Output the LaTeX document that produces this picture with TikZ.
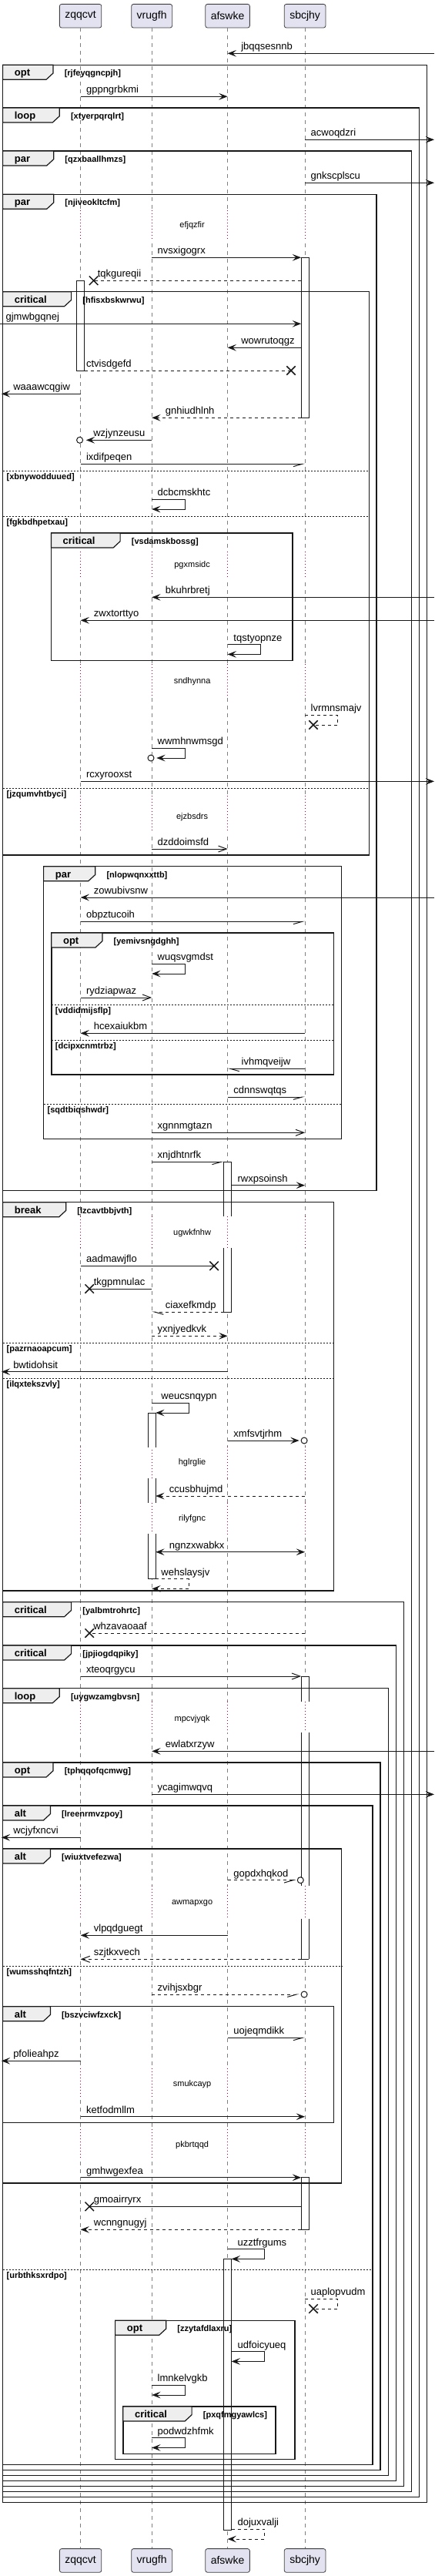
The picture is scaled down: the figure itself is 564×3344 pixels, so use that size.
\documentclass[tikz,border=0pt]{standalone}
\usepackage{fontspec}
\setmainfont{Liberation Sans}
\usetikzlibrary{arrows.meta,shapes.misc}
\definecolor{ink}{HTML}{181818}
\definecolor{partfill}{HTML}{E2E2F0}
\definecolor{tabfill}{HTML}{EEEEEE}
\definecolor{delayred}{HTML}{A80036}
\tikzset{>=Stealth}
\tikzset{
  seqtip/.tip={Stealth[length=8.5pt,width=6.5pt,inset=3.5pt]},
  opentip/.tip={Straight Barb[length=8pt,width=6pt]},
  halfe/.tip={Straight Barb[right,length=8.7pt,width=5pt]},
  halfw/.tip={Straight Barb[left,length=8.7pt,width=5pt]},
  part/.style={draw=black!75,fill=partfill,rounded corners=2pt,line width=0.6pt,
    minimum height=23pt,inner xsep=5.25pt,font=\fontsize{10.5}{12}\selectfont},
  lifeline/.style={draw=black!50,line width=0.6pt,dash pattern=on 3.75pt off 3.75pt},
  delayline/.style={draw=delayred,line width=0.75pt,dash pattern=on 0.75pt off 2.25pt},
  actbar/.style={draw=ink,fill=white,line width=0.75pt},
  actline/.style={draw=ink,line width=0.75pt},
  fragbox/.style={draw=ink,line width=1.1pt},
  fragtab/.style={draw=ink,fill=tabfill,line width=0.9pt},
  elseline/.style={draw=ink,line width=0.7pt,dash pattern=on 1.5pt off 1.5pt},
  kw/.style={font=\bfseries\fontsize{9.75}{11}\selectfont,anchor=base west,inner sep=0pt},
  grd/.style={font=\bfseries\fontsize{8.25}{10}\selectfont,anchor=base west,inner sep=0pt},
  lbl/.style={font=\fontsize{9.75}{11}\selectfont,anchor=base west,inner sep=0pt},
  dly/.style={font=\fontsize{8.25}{10}\selectfont,inner sep=0pt},
  msg/.style={draw=ink,line width=0.75pt},
  tipfull/.style={-seqtip},
  tipopen/.style={-opentip},
  tipboth/.style={seqtip-seqtip},
  tiphalf/.style={-halfe},
  tiphalfw/.style={-halfw},
  xmk/.style={cross out,draw=ink,line width=1.1pt,minimum size=7.5pt,inner sep=0pt},
  circ/.style={circle,draw=ink,fill=white,line width=0.75pt,minimum size=6pt,inner sep=0pt}
}
% lifeline positions
\def\xzq{104.6}
\def\xvr{197.2}
\def\xaf{295.6}
\def\xsb{396.1}
% style, name, x from, x to, y, label x, text
\newcommand\seqmsg[7][]{%
  \coordinate (#2-s) at (#3,#5);
  \coordinate (#2-e) at (#4,#5);
  \draw[msg,#1] (#2-s) -- (#2-e);
  \node[lbl] (#2) at (#6,#5-4.5) {#7};
}
% style, name, x from, x back, y top, x right, label x, text
\newcommand\selfloop[8][]{%
  \coordinate (#2-s) at (#3,#5);
  \coordinate (#2-e) at (#4,#5+12.7);
  \draw[msg,#1] (#2-s) -- (#6,#5) -- (#6,#5+12.7) -- (#2-e);
  \node[lbl] (#2) at (#7,#5-4.5) {#8};
}
% name, left, top, right, bottom, tab right, keyword, guard
\newcommand\seqframe[8]{%
  \draw[fragbox] (#2,#3) rectangle (#4,#5);
  \draw[fragtab] (#2,#3) -- (#6,#3) -- (#6,#3+10.7) -- (#6-9,#3+19) -- (#2,#3+19) -- cycle;
  \node[kw] (#1-kw) at (#2+15,#3+14.5) {#7};
  \node[grd] (#1) at (#6+14.5,#3+14.5) {[#8]};
}
% name, left, right, y, guard
\newcommand\seqelse[5]{%
  \draw[elseline] (#2,#4) -- (#3,#4);
  \node[grd] (#1) at (#2+4.8,#4+11.2) {[#5]};
}
\newcommand\actbox[3]{\draw[actbar] (#1-5,#2) rectangle (#1+5,#3);}
\newcommand\actseg[3]{\fill[white] (#1-5,#2) rectangle (#1+5,#3);
  \draw[actline] (#1-5,#2) -- (#1-5,#3) (#1+5,#2) -- (#1+5,#3);}
\newcommand\actcap[2]{\draw[actline] (#1-5,#2) -- (#1+5,#2);}

\begin{document}
\begin{tikzpicture}[x=0.75pt,y=-0.75pt]
  \path[use as bounding box,fill=white] (0,0) rectangle (564,3344);

  % Participants
  \node[part] (zqqcvt) at (\xzq,20.7) {zqqcvt};
  \node[part] (vrugfh) at (\xvr,20.7) {vrugfh};
  \node[part] (afswke) at (\xaf,20.7) {afswke};
  \node[part] (sbcjhy) at (\xsb,20.7) {sbcjhy};
  \node[part] (zqqcvt-f) at (\xzq,3323.9) {zqqcvt};
  \node[part] (vrugfh-f) at (\xvr,3323.9) {vrugfh};
  \node[part] (afswke-f) at (\xaf,3323.9) {afswke};
  \node[part] (sbcjhy-f) at (\xsb,3323.9) {sbcjhy};

  % Lifelines
  \foreach \p in {zqqcvt,vrugfh,afswke,sbcjhy}
    \draw[lifeline] (\p) -- (\p-f);
  \foreach \ya/\yb in {273.3/311.3,716/751,862.3/904.7,1033.3/1080.7,1579.3/1620,
      1878/1918.7,1950.7/1991,2209.3/2249,2448/2490.7,2684.7/2723.7,2763.7/2803.3}
    \foreach \x in {\xzq,\xvr,\xaf,\xsb} {
      \fill[white] (\x-1.5,\ya) rectangle (\x+1.5,\yb);
      \draw[delayline] (\x,\ya) -- (\x,\yb);
    }

  % Activations
  \actbox{\xsb}{334.3}{542.3}
  \actbox{\xzq}{364.3}{481}
  \actseg{\xaf}{1508.3}{1579.3} \actseg{\xaf}{1620}{1703}
  \actcap{\xaf}{1508.3} \actcap{\xaf}{1703}
  \actseg{\xvr}{1834}{1878.7} \actseg{\xvr}{1918.7}{1950.7} \actseg{\xvr}{1991}{2049.7}
  \actcap{\xvr}{1834} \actcap{\xvr}{2049.7}
  \actseg{\xsb}{2176}{2209.3} \actseg{\xsb}{2249}{2448} \actseg{\xsb}{2490.7}{2543.3}
  \actcap{\xsb}{2176} \actcap{\xsb}{2543.3}
  \actbox{\xsb}{2826.7}{2894.3}
  \actbox{\xaf}{2932.3}{3284}

  % Frames
  \seqframe{f1}{3.6}{84.3}{554.5}{3248.3}{69}{opt}{rjfeyqgncpjh}
  \seqframe{f2}{3.6}{140}{544.7}{3241.3}{77.3}{loop}{xtyerpqrqlrt}
  \seqframe{f3}{3.6}{196}{534.5}{3234.3}{69.7}{par}{qzxbaallhmzs}
  \seqframe{f4}{3.6}{252.3}{489.1}{1545.7}{69.7}{par}{njiveokltcfm}
  \seqframe{f5}{3.6}{378.7}{479.3}{1110}{92.6}{critical}{hfisxbskwrwu}
  \seqelse{e1}{3.6}{479.3}{611.3}{xbnywodduued}
  \seqelse{e2}{3.6}{479.3}{670.3}{fgkbdhpetxau}
  \seqframe{f6}{66.4}{692}{380.2}{857.3}{156.1}{critical}{vsdamskbossg}
  \seqelse{e3}{3.6}{479.3}{1023.3}{jzqumvhtbyci}
  \seqframe{f7}{56.6}{1124.7}{443.7}{1478.3}{123.8}{par}{nlopwqnxxttb}
  \seqframe{f8}{66.8}{1211}{433.6}{1395}{132.9}{opt}{yemivsngdghh}
  \seqelse{e4}{66.8}{433.6}{1304.3}{vddidmijsflp}
  \seqelse{e5}{66.8}{433.6}{1350.3}{dcipxcnmtrbz}
  \seqelse{e6}{56.6}{443.7}{1433.3}{sqdtbiqshwdr}
  \seqframe{f9}{3.6}{1560.7}{433.6}{2065}{85.7}{break}{lzcavtbbjvth}
  \seqelse{e7}{3.6}{433.6}{1743.3}{pazrnaoapcum}
  \seqelse{e8}{3.6}{433.6}{1789.3}{ilqxtekszvly}
  \seqframe{f10}{3.6}{2079.7}{524.7}{3227.3}{92.6}{critical}{yalbmtrohrtc}
  \seqframe{f11}{3.6}{2136}{514.5}{3220.3}{92.6}{critical}{jpjiogdqpiky}
  \seqframe{f12}{3.6}{2191.7}{504.4}{3213.3}{77.3}{loop}{uygwzamgbvsn}
  \seqframe{f13}{3.6}{2288}{494.2}{3206.3}{69}{opt}{tphqqofqcmwg}
  \seqframe{f14}{3.6}{2344}{484}{3199.3}{65.4}{alt}{lreenrmvzpoy}
  \seqframe{f15}{3.6}{2400}{443.7}{2834}{65.4}{alt}{wiuxtvefezwa}
  \seqelse{e9}{3.6}{443.7}{2552.3}{wumsshqfntzh}
  \seqframe{f16}{3.6}{2604.7}{433.6}{2755.3}{65.4}{alt}{bszvciwfzxck}
  \seqelse{e10}{3.6}{484}{2946}{urbthksxrdpo}
  \seqframe{f17}{149.6}{3012.3}{383.1}{3192.3}{215.7}{opt}{zzytafdlaxru}
  \seqframe{f18}{159.8}{3124}{358}{3185.3}{249.1}{critical}{pxqfmgyawlcs}

  % Messages
  \seqmsg[tipfull]{m1}{564}{\xaf}{69.3}{313}{jbqqsesnnb}
  \seqmsg[tipfull]{m2}{\xzq}{\xaf}{125.3}{111.8}{gppngrbkmi}
  \seqmsg[tipfull]{m3}{\xsb}{564}{181.3}{403.4}{acwoqdzri}
  \seqmsg[tipfull]{m4}{\xsb}{564}{237.3}{403.4}{gnkscplscu}
  \seqmsg[tipfull]{m5}{\xvr}{\xsb-5}{334.3}{204.4}{nvsxigogrx}
  \seqmsg[dashed]{m6}{\xsb-5}{121.6}{364.3}{126.6}{tqkgureqii}
  \node[xmk] (m6x) at (m6-e) {};
  \seqmsg[tipfull]{m7}{0}{\xsb-5}{420.3}{7.3}{gjmwbgqnej}
  \seqmsg[tipfull]{m8}{\xsb-5}{\xaf}{451.3}{313}{wowrutoqgz}
  \seqmsg[dashed]{m9}{\xzq+5}{378}{481}{111.8}{ctvisdgefd}
  \node[xmk] (m9x) at (m9-e) {};
  \seqmsg[tipfull]{m10}{\xzq}{1.8}{511.3}{17}{waaawcqgiw}
  \seqmsg[dashed,tipfull]{m11}{\xsb-5}{\xvr}{542.3}{214.6}{gnhiudhlnh}
  \seqmsg[tipfull]{m12}{\xvr}{\xzq+7.2}{571.3}{121}{wzjynzeusu}
  \node[circ] (m12o) at (\xzq-1,571.3) {};
  \seqmsg[tiphalf]{m13}{\xzq}{\xsb}{602.3}{111.8}{ixdifpeqen}
  \selfloop[tipfull]{m14}{\xvr}{\xvr}{648.3}{240}{204.4}{dcbcmskhtc}
  \seqmsg[tipfull]{m15}{564}{\xvr}{775.3}{214.6}{bkuhrbretj}
  \seqmsg[tipfull]{m16}{564}{\xzq}{805.3}{121.6}{zwxtorttyo}
  \selfloop[tipfull]{m17}{\xaf}{\xaf}{836.7}{338.4}{303.2}{tqstyopnze}
  \selfloop[dashed]{m18}{\xsb}{407}{928.3}{438.6}{403.4}{lvrmnsmajv}
  \node[xmk] (m18x) at (m18-e) {};
  \selfloop[tipfull]{m19}{\xvr}{203.3}{971.3}{240}{204.4}{wwmhnwmsgd}
  \node[circ] (m19o) at (196,984) {};
  \seqmsg[tipfull]{m20}{\xzq}{564}{1014.3}{111.8}{rcxyrooxst}
  \seqmsg[tipopen]{m21}{\xvr}{\xaf}{1102}{204.4}{dzddoimsfd}
  \seqmsg[tipfull]{m22}{564}{\xzq}{1165}{121.6}{zowubivsnw}
  \seqmsg[tiphalf]{m23}{\xzq}{\xsb}{1196.3}{111.8}{obpztucoih}
  \selfloop[tipfull]{m24}{\xvr}{\xvr}{1251.3}{240}{204.4}{wuqsvgmdst}
  \seqmsg[tipopen]{m25}{\xzq}{\xvr}{1295}{111.8}{rydziapwaz}
  \seqmsg[tipfull]{m26}{\xsb}{\xzq}{1341.3}{121.6}{hcexaiukbm}
  \seqmsg[tiphalfw]{m27}{\xsb}{\xaf}{1387.3}{313.4}{ivhmqveijw}
  \seqmsg[tiphalf]{m28}{\xaf}{\xsb}{1424}{303.2}{cdnnswqtqs}
  \seqmsg[tipopen]{m29}{\xvr}{\xsb}{1470.3}{204.4}{xgnnmgtazn}
  \seqmsg[tiphalf]{m30}{\xvr}{\xaf-5}{1508.3}{204.4}{xnjdhtnrfk}
  \seqmsg[tipfull]{m31}{\xaf+5}{\xsb}{1538.7}{308.3}{rwxpsoinsh}
  \seqmsg{m32}{\xzq}{278.1}{1643.3}{111.8}{aadmawjflo}
  \node[xmk] (m32x) at (m32-e) {};
  \seqmsg{m33}{\xvr}{116.2}{1673}{121.6}{tkgpmnulac}
  \node[xmk] (m33x) at (m33-e) {};
  \seqmsg[dashed,tiphalfw]{m34}{\xaf-5}{\xvr}{1703}{214.6}{ciaxefkmdp}
  \seqmsg[dashed,tipfull]{m35}{\xvr}{\xaf}{1734.3}{204.4}{yxnjyedkvk}
  \seqmsg[tipfull]{m36}{\xaf}{1.8}{1780.7}{17}{bwtidohsit}
  \selfloop[tipfull]{m37}{\xvr}{\xvr+5}{1821.3}{245}{209.2}{weucsnqypn}
  \seqmsg[tipfull]{m38}{\xaf}{\xsb-7.5}{1870}{303.2}{xmfsvtjrhm}
  \node[circ] (m38o) at (\xsb-1,1870) {};
  \seqmsg[dashed,tipfull]{m39}{\xsb}{\xvr+5}{1942}{219.7}{ccusbhujmd}
  \seqmsg[tipboth]{m40}{\xvr+5}{\xsb}{2014.7}{219.7}{ngnzxwabkx}
  \selfloop[dashed,tipfull]{m41}{\xvr+5}{\xvr}{2049.7}{245}{209.2}{wehslaysjv}
  \seqmsg[dashed]{m42}{\xsb}{116.2}{2120}{121}{whzavaoaaf}
  \node[xmk] (m42x) at (m42-e) {};
  \seqmsg[tipopen]{m43}{\xzq}{\xsb-5}{2176}{111.8}{xteoqrgycu}
  \seqmsg[tipfull]{m44}{564}{\xvr}{2273.3}{214.6}{ewlatxrzyw}
  \seqmsg[tipfull]{m45}{\xvr}{564}{2329.3}{204.4}{ycagimwqvq}
  \seqmsg[tipfull]{m46}{\xzq}{1.8}{2385.3}{17}{wcjyfxncvi}
  \seqmsg[dashed,tiphalf]{m47}{\xaf}{384.2}{2440.7}{303.2}{gopdxhqkod}
  \node[circ] (m47o) at (390.3,2440.7) {};
  \seqmsg[tipfull]{m48}{\xaf}{\xzq}{2512.3}{121.6}{vlpqdguegt}
  \seqmsg[dashed,tipopen]{m49}{\xsb-5}{\xzq}{2543.3}{121.6}{szjtkxvech}
  \seqmsg[dashed,tiphalf]{m50}{\xvr}{388.5}{2589}{204.4}{zvihjsxbgr}
  \node[circ] (m50o) at (\xsb-1,2589) {};
  \seqmsg[tiphalf]{m51}{\xaf}{\xsb}{2645.3}{303.2}{uojeqmdikk}
  \seqmsg[tipfull]{m52}{\xzq}{1.8}{2675.3}{17}{pfolieahpz}
  \seqmsg[tipfull]{m53}{\xzq}{\xsb}{2747.7}{111.8}{ketfodmllm}
  \seqmsg[tipfull]{m54}{\xzq}{\xsb-5}{2826.7}{111.8}{gmhwgexfea}
  \seqmsg{m55}{\xsb-5}{116.2}{2864.3}{121.6}{gmoairryrx}
  \node[xmk] (m55x) at (m55-e) {};
  \seqmsg[dashed,tipfull]{m56}{\xsb-5}{\xzq}{2894.3}{121.6}{wcnngnugyj}
  \selfloop[tipfull]{m57}{\xaf}{\xaf+5}{2919.7}{343.5}{308.3}{uzztfrgums}
  \selfloop[dashed]{m58}{\xsb}{407}{2984.3}{438.6}{403.4}{uaplopvudm}
  \node[xmk] (m58x) at (m58-e) {};
  \selfloop[tipfull]{m59}{\xaf+5}{\xaf+5}{3052.7}{343.5}{308.3}{udfoicyueq}
  \selfloop[tipfull]{m60}{\xvr}{\xvr}{3096.3}{240}{204.4}{lmnkelvgkb}
  \selfloop[tipfull]{m61}{\xvr}{\xvr}{3164.7}{240}{204.4}{podwdzhfmk}
  \selfloop[dashed,tipfull]{m62}{\xaf+5}{\xaf}{3283.3}{343.5}{308.3}{dojuxvalji}

  % Delays
  \node[dly] (d1) at (249.6,292.3) {efjqzfir};
  \node[dly] (d2) at (249.6,733.3) {pgxmsidc};
  \node[dly] (d3) at (249.6,885) {sndhynna};
  \node[dly] (d4) at (249.6,1060.7) {ejzbsdrs};
  \node[dly] (d5) at (249.6,1600.3) {ugwkfnhw};
  \node[dly] (d6) at (249.6,1899) {hglrglie};
  \node[dly] (d7) at (249.6,1972) {rilyfgnc};
  \node[dly] (d8) at (249.6,2231.3) {mpcvjyqk};
  \node[dly] (d9) at (249.6,2470.7) {awmapxgo};
  \node[dly] (d10) at (249.6,2705.3) {smukcayp};
  \node[dly] (d11) at (249.6,2784.7) {pkbrtqqd};
\end{tikzpicture}
\end{document}
